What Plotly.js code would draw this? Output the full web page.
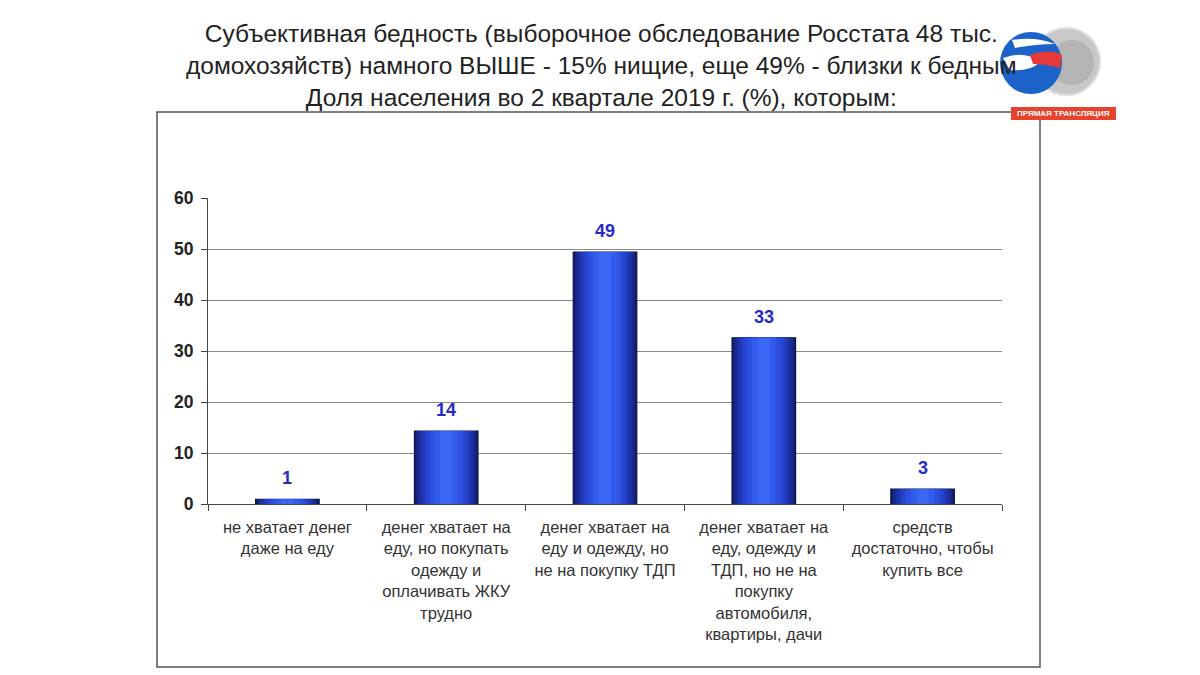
<!DOCTYPE html>
<html><head><meta charset="utf-8">
<script src="https://cdn.plot.ly/plotly-3.0.1.min.js"></script>
<style>html,body{margin:0;padding:0;background:#fff}#c{width:1200px;height:675px}</style>
</head><body><div id="c"></div>
<script>
const categories = [
  "не хватает денег<br>даже на еду",
  "денег хватает на<br>еду, но покупать<br>одежду и<br>оплачивать ЖКУ<br>трудно",
  "денег хватает на<br>еду и одежду, но<br>не на покупку ТДП",
  "денег хватает на<br>еду, одежду и<br>ТДП, но не на<br>покупку<br>автомобиля,<br>квартиры, дачи",
  "средств<br>достаточно, чтобы<br>купить все"
];
const values = [0.9, 14.3, 49.4, 32.6, 2.9];
const valueLabels = ["1", "14", "49", "33", "3"];
const yTicks = [0, 10, 20, 30, 40, 50, 60];
const titleText = "Субъективная бедность (выборочное обследование Росстата 48 тыс.<br>домохозяйств) намного ВЫШЕ - 15% нищие, еще 49% - близки к бедным<br>Доля населения во 2 квартале 2019 г. (%), которым:";

const L = 208, R = 1002, T = 198, B = 504;
const px = x => (x - L) / (R - L);
const py = y => (B - y) / (B - T);
const FONT = "Liberation Sans, Arial, sans-serif";

const layers = [
  {w: 0.40, c: "#131f70"},
  {w: 0.37, c: "#18288c"},
  {w: 0.34, c: "#1d31a6"},
  {w: 0.30, c: "#223bbd"},
  {w: 0.26, c: "#2745d0"},
  {w: 0.21, c: "#2c50e0"},
  {w: 0.15, c: "#325bec"},
  {w: 0.08, c: "#3a66f4"}
];
const traces = layers.map((ly, i) => ({
  type: "bar", x: categories, y: values, width: ly.w,
  marker: {color: ly.c, line: {color: "#0a1248", width: i === 0 ? 1.2 : 0}},
  hoverinfo: "skip", showlegend: false
}));

const shapes = [
  {type: "rect", xref: "paper", yref: "paper", x0: px(157), x1: px(1040), y0: py(112), y1: py(667),
   line: {color: "#555", width: 1.5}, layer: "below"},
  {type: "circle", xref: "paper", yref: "paper", x0: px(1033), x1: px(1100), y0: py(95), y1: py(28),
   fillcolor: "#c8c8c8", line: {color: "#dedede", width: 2}, layer: "above"},
  {type: "circle", xref: "paper", yref: "paper", x0: px(1050), x1: px(1094), y0: py(85), y1: py(40),
   fillcolor: "#b4b4b4", line: {width: 0}, layer: "above"},
  {type: "circle", xref: "paper", yref: "paper", x0: px(1000), x1: px(1062), y0: py(94), y1: py(32),
   fillcolor: "#1b63c8", line: {width: 0}, layer: "above"},
  {type: "path", xref: "paper", yref: "paper", layer: "above", line: {width: 0}, fillcolor: "#ffffff",
   path: `M ${px(1003)} ${py(58)} Q ${px(1025)} ${py(50)} ${px(1040)} ${py(62)} Q ${px(1030)} ${py(72)} ${px(1010)} ${py(70)} Z`},
  {type: "path", xref: "paper", yref: "paper", layer: "above", line: {width: 0}, fillcolor: "#e83a3a",
   path: `M ${px(1030)} ${py(55)} Q ${px(1050)} ${py(48)} ${px(1062)} ${py(55)} L ${px(1060)} ${py(68)} Q ${px(1045)} ${py(64)} ${px(1033)} ${py(64)} Z`},
  {type: "path", xref: "paper", yref: "paper", layer: "above", line: {width: 0}, fillcolor: "#ffffff",
   path: `M ${px(1012)} ${py(40)} Q ${px(1035)} ${py(36)} ${px(1055)} ${py(44)} Q ${px(1035)} ${py(44)} ${px(1015)} ${py(48)} Z`},
  {type: "rect", xref: "paper", yref: "paper", x0: px(1011), x1: px(1116), y0: py(107), y1: py(120),
   fillcolor: "#e8412c", line: {width: 0}, layer: "above"}
];

const annotations = [
  {xref: "paper", yref: "paper", x: px(601), y: py(18), xanchor: "center", yanchor: "top",
   text: titleText, showarrow: false, align: "center",
   font: {family: FONT, size: 24.5, color: "#222"}},
  {xref: "paper", yref: "paper", x: px(1063.5), y: py(113.5), xanchor: "center", yanchor: "middle",
   text: "<b>ПРЯМАЯ ТРАНСЛЯЦИЯ</b>", showarrow: false,
   font: {family: FONT, size: 8, color: "#ffffff"}}
].concat(categories.map((c, i) => ({
  xref: "x", yref: "y", x: c, y: values[i], xanchor: "center", yanchor: "bottom", yshift: 9,
  text: "<b>" + valueLabels[i] + "</b>", showarrow: false,
  font: {family: FONT, size: 18, color: "#2a2ac4"}
})));

const layout = {
  width: 1200, height: 675,
  margin: {l: L, r: 1200 - R, t: T, b: 675 - B},
  paper_bgcolor: "#ffffff", plot_bgcolor: "#ffffff",
  barmode: "overlay",
  font: {family: FONT, color: "#333"},
  xaxis: {type: "category", showgrid: false, showline: true, linecolor: "#444", linewidth: 1,
          ticks: "outside", tickson: "boundaries", ticklen: 6, tickcolor: "#444",
          ticklabelstandoff: 8,
          tickangle: 0, tickfont: {size: 16.5, color: "#333"}, fixedrange: true},
  yaxis: {range: [0, 60], tickvals: yTicks, showgrid: true, gridcolor: "#8a8a8a", gridwidth: 1,
          showline: true, linecolor: "#444", linewidth: 1, ticks: "outside", ticklen: 6, tickcolor: "#444",
          ticklabelstandoff: 4,
          zeroline: false, tickfont: {size: 17.5, color: "#222", weight: "bold"}, fixedrange: true},
  shapes: shapes,
  annotations: annotations
};
Plotly.newPlot("c", traces, layout, {displayModeBar: false, staticPlot: true});
</script></body></html>
